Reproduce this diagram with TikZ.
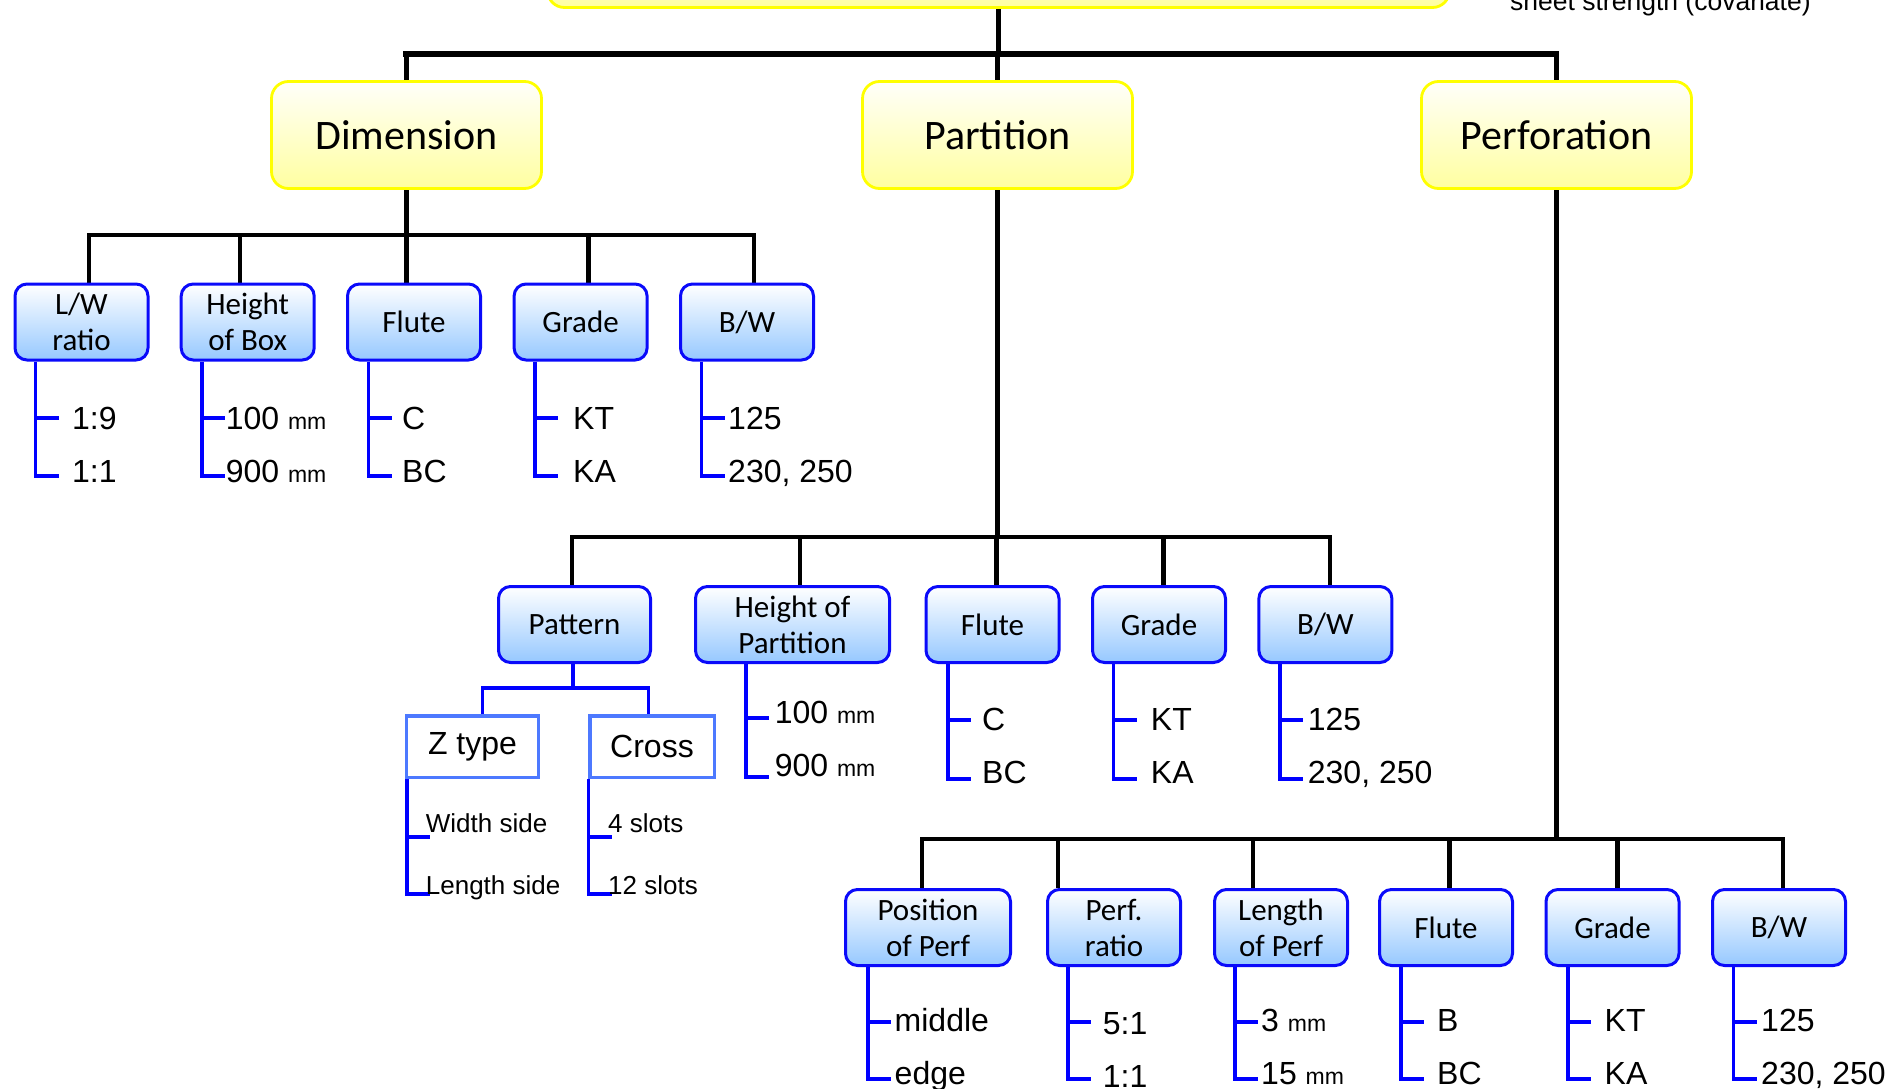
\documentclass[tikz,border=0pt]{standalone}
\usepackage{fontspec}
\setmainfont{Liberation Sans}
\newfontfamily\calibrifont{Carlito}
\usetikzlibrary{backgrounds}
\definecolor{yb}{RGB}{255,255,0}
\definecolor{yf}{RGB}{255,255,160}
\definecolor{yt}{RGB}{255,255,250}
\definecolor{bb}{RGB}{10,10,250}
\definecolor{bf}{RGB}{150,200,255}
\definecolor{zb}{RGB}{77,121,255}
\definecolor{bl}{RGB}{0,0,255}
\newcommand\mmu{{\fontsize{23}{23}\selectfont mm}}
\newcommand\leafbr[4]{\draw[blu] (#1.south -| #2,0) -- (#2,#4) -- ++(23,0); \draw[blu] (#2,#3) -- ++(23,0);}
\begin{document}
\begin{tikzpicture}[x=1pt,y=-1pt,
  ybox/.style={draw=yb, line width=2.8pt, rounded corners=17pt, top color=yt, bottom color=yf,
    minimum width=270pt, minimum height=107pt, inner sep=0pt, align=center,
    font=\calibrifont\fontsize{42}{48}\selectfont},
  bbox/.style={draw=bb, line width=3pt, rounded corners=12pt, top color=white, bottom color=bf,
    minimum width=133pt, minimum height=76pt, inner sep=0pt, align=center,
    font=\calibrifont\fontsize{31}{36}\selectfont},
  zbox/.style={draw=zb, line width=3.5pt, fill=white, minimum height=61.5pt, inner sep=0pt,
    font=\fontsize{32}{36}\selectfont},
  leaf/.style={anchor=base west, inner sep=0pt, font=\fontsize{32}{36}\selectfont},
  sleaf/.style={anchor=base west, inner sep=0pt, font=\fontsize{26}{30}\selectfont},
  blk/.style={line width=4.7pt, black},
  bar/.style={line width=4.7pt, black, line cap=rect},
  blu/.style={line width=3.3pt, bl}]
\useasboundingbox (0,0) rectangle (1901,1089);
\clip (0,0) rectangle (1901,1089);

% level 0 / 1
\node[ybox, minimum width=902pt, minimum height=80pt] (topb) at (998.5,-32.5) {};
\node[anchor=base west, inner sep=0pt, font=\fontsize{26.5}{30}\selectfont] (cov) at (1510,11) {sheet strength (covariate)};
\node[ybox] (dim) at (406.5,135) {Dimension};
\node[ybox] (part) at (997.5,135) {Partition};
\node[ybox] (perf) at (1556.5,135) {Perforation};

% Dimension row
\node[bbox] (lw) at (81.5,322) {L/W\\ratio};
\node[bbox] (hb) at (247.7,322) {Height\\of Box};
\node[bbox] (fl1) at (414,322) {Flute};
\node[bbox] (gr1) at (580.6,322) {Grade};
\node[bbox] (bw1) at (747,322) {B/W};

% Partition row
\node[bbox, minimum width=152pt] (pat) at (574.5,624.5) {Pattern};
\node[bbox, minimum width=194pt] (hp) at (792.5,624.5) {Height of\\Partition};
\node[bbox] (fl2) at (992.5,624.5) {Flute};
\node[bbox] (gr2) at (1159,624.5) {Grade};
\node[bbox] (bw2) at (1325.4,624.5) {B/W};
\node[zbox, minimum width=131.8pt] (zt) at (472.5,746.5) {Z type};
\node[zbox, minimum width=124.5pt] (cr) at (652,746.5) {Cross};

% Perforation row
\node[bbox, minimum width=165pt] (pos) at (928,927.5) {Position\\of Perf};
\node[bbox] (pr) at (1114,927.5) {Perf.\\ratio};
\node[bbox] (lp) at (1281,927.5) {Length\\of Perf};
\node[bbox] (fl3) at (1446,927.5) {Flute};
\node[bbox] (gr3) at (1612.5,927.5) {Grade};
\node[bbox] (bw3) at (1779,927.5) {B/W};

% leaves: Dimension
\node[leaf] (a1) at (72,429) {1:9};
\node[leaf] (a2) at (72,482) {1:1};
\node[leaf] (b1) at (225.6,429) {100 \mmu};
\node[leaf] (b2) at (225.6,482) {900 \mmu};
\node[leaf] (c1) at (402,429) {C};
\node[leaf] (c2) at (402,482) {BC};
\node[leaf] (d1) at (573,429) {KT};
\node[leaf] (d2) at (573,482) {KA};
\node[leaf] (e1) at (728,429) {125};
\node[leaf] (e2) at (728,482) {230, 250};

% leaves: Partition
\node[sleaf] (z1) at (425.7,832) {Width side};
\node[sleaf] (z2) at (425.7,894) {Length side};
\node[sleaf] (x1) at (608,832) {4 slots};
\node[sleaf] (x2) at (608,894) {12 slots};
\node[leaf] (f1) at (774.6,723) {100 \mmu};
\node[leaf] (f2) at (774.6,776) {900 \mmu};
\node[leaf] (g1) at (982,730) {C};
\node[leaf] (g2) at (982,783) {BC};
\node[leaf] (h1) at (1150.7,730) {KT};
\node[leaf] (h2) at (1150.7,783) {KA};
\node[leaf] (i1) at (1307.7,730) {125};
\node[leaf] (i2) at (1307.7,783) {230, 250};

% leaves: Perforation
\node[leaf] (j1) at (894.5,1031) {middle};
\node[leaf] (j2) at (894.5,1084) {edge};
\node[leaf] (k1) at (1102.7,1034) {5:1};
\node[leaf] (k2) at (1102.7,1087) {1:1};
\node[leaf] (m1) at (1261,1031) {3 \mmu};
\node[leaf] (m2) at (1261,1084) {15 \mmu};
\node[leaf] (n1) at (1437,1031) {B};
\node[leaf] (n2) at (1437,1084) {BC};
\node[leaf] (o1) at (1604.5,1031) {KT};
\node[leaf] (o2) at (1604.5,1084) {KA};
\node[leaf] (p1) at (1761,1031) {125};
\node[leaf] (p2) at (1761,1084) {230, 250};

% connector coordinates
\coordinate (t0L) at (406,54);
\coordinate (t0R) at (1556,54);
\coordinate (dL) at (89,235);
\coordinate (dR) at (754,235);
\coordinate (pL) at (572,537);
\coordinate (pR) at (1330,537);
\coordinate (fL) at (922,839);
\coordinate (fR) at (1783,839);

\begin{scope}[on background layer]
\draw[blk] (topb.south) -- (topb.south |- t0L);
\draw[line width=6pt, line cap=rect] (t0L) -- (t0R);
\draw[blk] (dim.north) -- (dim.north |- t0L);
\draw[blk] (part.north) -- (part.north |- t0L);
\draw[blk] (perf.north) -- (perf.north |- t0L);

% Dimension children
\draw[blk] (dim.south) -- (dim.south |- dL);
\draw[bar] (dL) -- (dR);
\draw[blk] (dL) -- (lw.north -| dL);
\draw[blk] (240,235) -- (hb.north -| 240,0);
\draw[blk] (406.4,235) -- (fl1.north -| 406.4,0);
\draw[blk] (588.4,235) -- (gr1.north -| 588.4,0);
\draw[blk] (dR) -- (bw1.north -| dR);

% Partition children
\draw[blk] (part.south) -- (part.south |- pL);
\draw[bar] (pL) -- (pR);
\draw[blk] (pL) -- (pat.north -| pL);
\draw[blk] (800,537) -- (hp.north -| 800,0);
\draw[blk] (996.6,537) -- (fl2.north -| 996.6,0);
\draw[blk] (1163.5,537) -- (gr2.north -| 1163.5,0);
\draw[blk] (pR) -- (bw2.north -| pR);

% Perforation children
\draw[blk] (perf.south) -- (perf.south |- fL);
\draw[bar] (fL) -- (fR);
\draw[blk] (fL) -- (pos.north -| fL);
\draw[blk] (1058,839) -- (pr.north -| 1058,0);
\draw[blk] (1253,839) -- (lp.north -| 1253,0);
\draw[blk] (1449.4,839) -- (fl3.north -| 1449.4,0);
\draw[blk] (1617.6,839) -- (gr3.north -| 1617.6,0);
\draw[blk] (fR) -- (bw3.north -| fR);

% Pattern split
\draw[blu] (pat.south -| 573,0) -- (573,688);
\draw[blu] (zt.north -| 482.5,0) |- (573,688) -| (cr.north -| 648.6,0);

% leaf brackets
\leafbr{lw}{35.6}{418}{476}
\leafbr{hb}{202}{418}{476}
\leafbr{fl1}{368.5}{418}{476}
\leafbr{gr1}{535}{418}{476}
\leafbr{bw1}{701.5}{418}{476}
\leafbr{zt}{407}{837}{894}
\leafbr{cr}{588.6}{837}{894}
\leafbr{hp}{746}{718}{777}
\leafbr{fl2}{948}{720}{779}
\leafbr{gr2}{1113.6}{720}{779}
\leafbr{bw2}{1280}{720}{779}
\leafbr{pos}{868}{1022}{1079}
\leafbr{pr}{1068}{1022}{1079}
\leafbr{lp}{1235}{1022}{1079}
\leafbr{fl3}{1401}{1022}{1079}
\leafbr{gr3}{1568}{1022}{1079}
\leafbr{bw3}{1733.5}{1022}{1079}
\end{scope}
\end{tikzpicture}
\end{document}
